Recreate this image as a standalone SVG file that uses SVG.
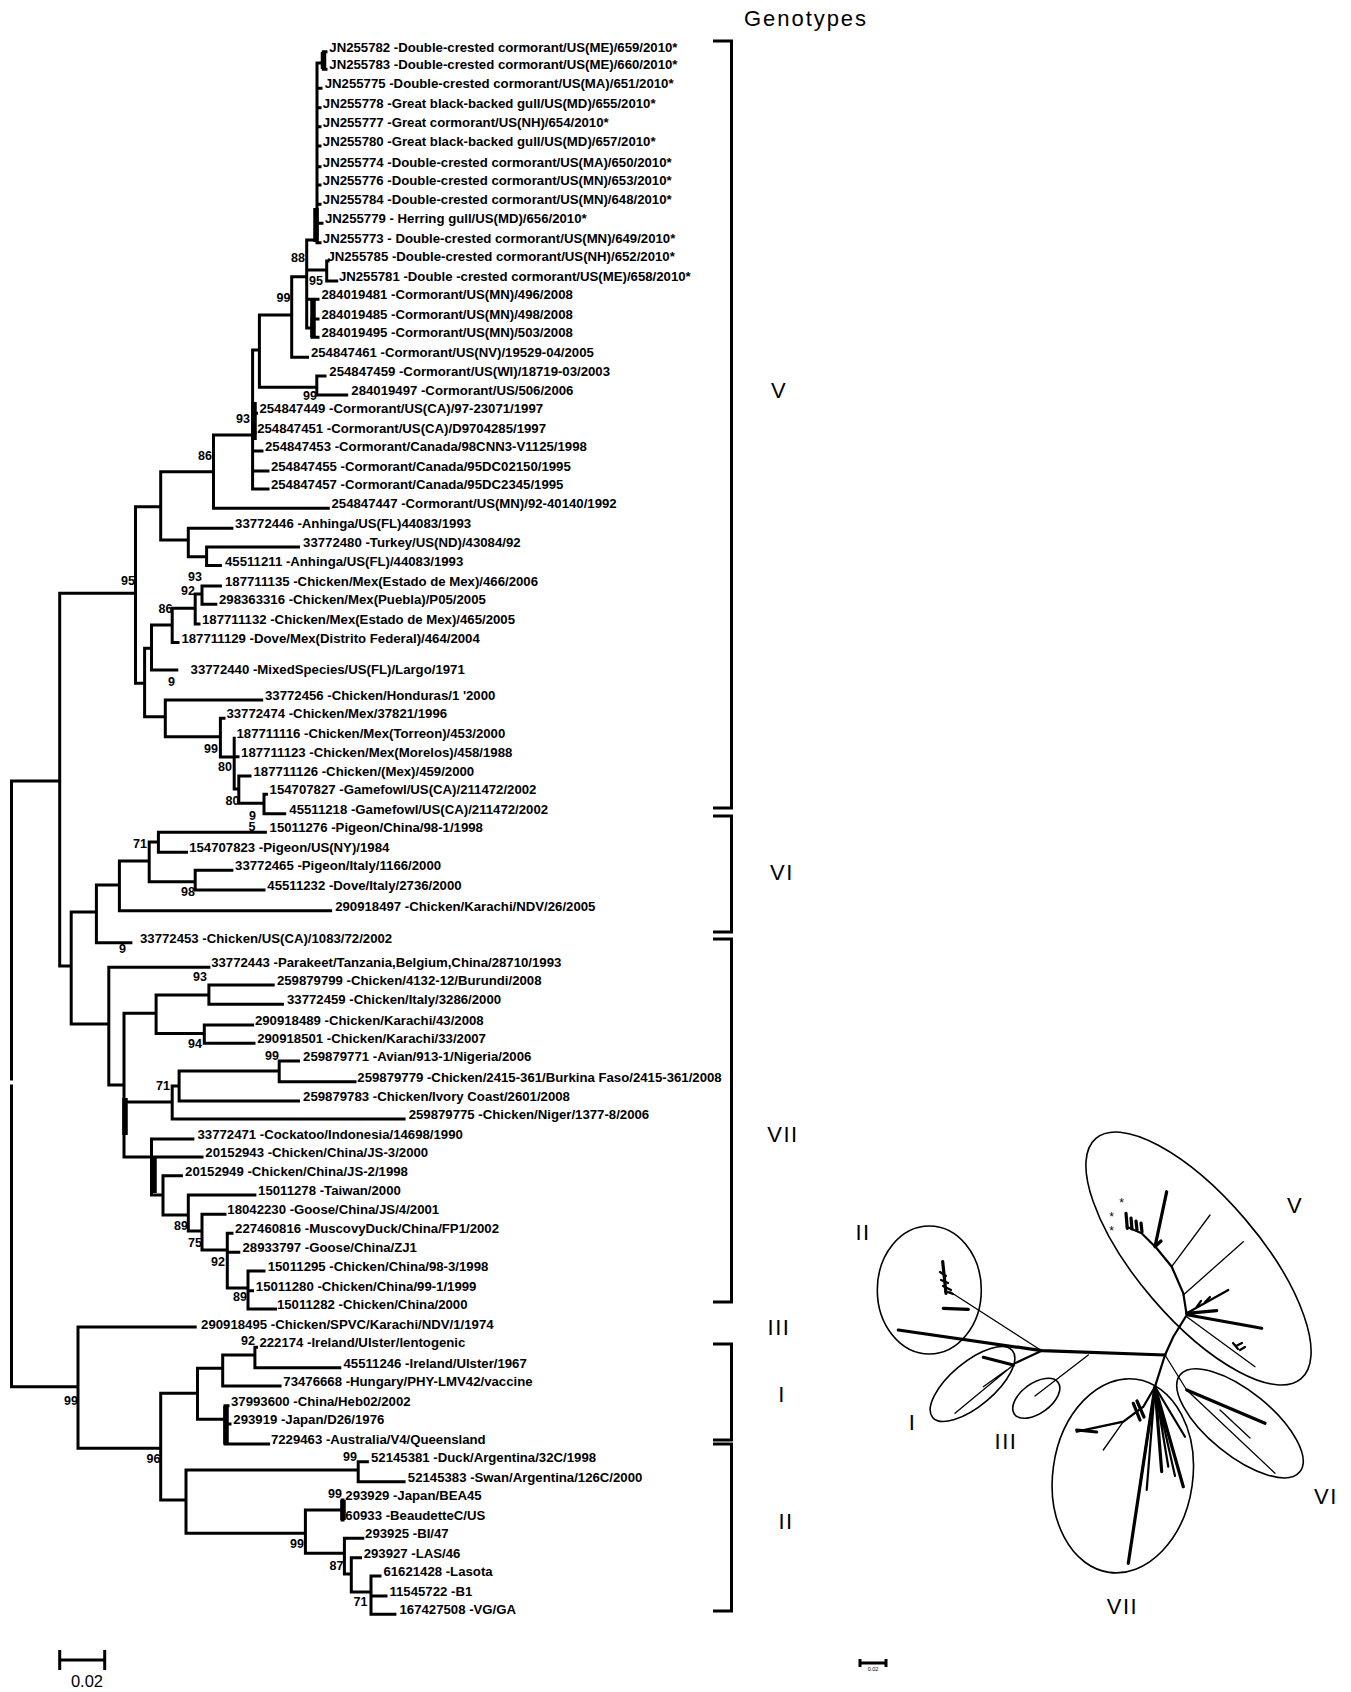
<svg xmlns="http://www.w3.org/2000/svg" width="1351" height="1692" viewBox="0 0 1351 1692">
<style>
.t{font-family:"Liberation Sans",Arial,sans-serif;font-weight:bold;font-size:13.2px;fill:#000}
.b{font-family:"Liberation Sans",Arial,sans-serif;font-weight:bold;font-size:12.5px;fill:#000;text-anchor:end}
.g{font-family:"Liberation Sans",Arial,sans-serif;font-size:22px;fill:#000;text-anchor:middle;letter-spacing:1.5px}
.ast{font-family:"Liberation Sans",Arial,sans-serif;font-size:12px;fill:#000;text-anchor:middle}
.br{fill:none;stroke:#000;stroke-width:3;stroke-linecap:square}
.thick{fill:none;stroke:#000;stroke-width:5.5}
.bk{fill:none;stroke:#000;stroke-width:3}
.u1{fill:none;stroke:#000;stroke-width:1.3;stroke-linecap:round}
.u2{fill:none;stroke:#000;stroke-width:2.2;stroke-linecap:round}
.u3{fill:none;stroke:#000;stroke-width:3.2;stroke-linecap:round}
.el{fill:none;stroke:#000;stroke-width:1.6}
</style>
<rect width="1351" height="1692" fill="#fff"/>

<g id="connectors">
<path class="br" d="
M11.5,781 V1079 M11.5,1086 V1386.7 M11.5,781 H59.7 M11.5,1386.7 H78
M59.7,593.3 V966 M59.7,593.3 H135.5 M59.7,966 H71.2
M135.5,506.7 V683.3 M135.5,506.7 H160.7 M135.5,683.3 H144.6
M160.7,471.7 V540 M160.7,471.7 H213.5 M160.7,540 H188.3
M213.5,435 V508.3 M213.5,435 H252.6 M213.5,508.3 H328.3
M252.6,350 V489 M252.6,413.3 H256.5 M252.6,432.7 H255 M252.6,451 H262 M252.6,471 H268 M252.6,489 H268 M252.6,350 H259.4
M259.4,315 V387.3 M259.4,315 H291.7 M259.4,387.3 H316.8
M291.7,276.7 V357.3 M291.7,276.7 H306.7 M291.7,357.3 H307.5
M306.7,240 V328 M306.7,240 H317 M306.7,270 H326.7 M306.7,299.3 H318 M306.7,328 H312
M312,319 V337.3 M312,319 H318 M312,337.3 H318
M317,63 V242.7 M317,88.3 H321 M317,107.7 H320 M317,126.7 H320 M317,146 H320 M317,166.7 H320 M317,185 H320 M317,204.3 H320 M317,223.3 H322 M317,242.7 H320
M317,63 H323.3 M323.3,51.7 V69.3 M323.3,51.7 H326 M323.3,69.3 H326
M326.7,261 V281 M326.7,261 H328 M326.7,281 H336.7
M316.8,376 V395 M316.8,376 H325 M316.8,395 H346.7
M188.3,528.3 V556.7 M188.3,528.3 H231.9 M188.3,556.7 H206.6
M206.6,547 V565.5 M206.6,547 H298.5 M206.6,565.5 H220.4
M144.6,648.3 V716.7 M144.6,648.3 H151.5 M144.6,716.7 H165.3
M151.5,625 V670 M151.5,625 H172.2 M151.5,670 H176.8
M172.2,608.3 V642.5 M172.2,608.3 H195.2 M172.2,642.5 H178
M195.2,594 V624 M195.2,594 H202 M195.2,624 H199
M202,586 V604.3 M202,586 H220.4 M202,604.3 H215.8
M165.3,700 V736.7 M165.3,700 H261.7 M165.3,736.7 H220.4
M220.4,718.3 V757 M220.4,718.3 H224 M220.4,757 H234.2
M234.2,738.3 V789 M234.2,756.7 H238 M234.2,789 H238.8
M238.8,776 V803.3 M238.8,776 H250 M238.8,803.3 H264
M264,794.3 V813.7 M264,794.3 H266.5 M264,813.7 H284.7
M158.4,832.3 V852.3 M158.4,832.3 H265.4 M158.4,852.3 H186.5
M149.2,842 V881.7 M149.2,842 H158.4 M149.2,881.7 H195.2
M195.2,870.3 V890 M195.2,870.3 H231.9 M195.2,890 H264
M119.4,861 V910.7 M119.4,861 H149.2 M119.4,910.7 H330.6
M96.4,885 V942.7 M96.4,885 H119.4 M96.4,942.7 H130.9
M71.2,912 V1024 M71.2,912 H96.4 M71.2,1024 H108.8
M108.8,967.3 V1085 M108.8,967.3 H208.9 M108.8,1085 H124
M124,1013.3 V1157 M124,1013.3 H156.1 M124,1102 H172.2 M124,1157 H151.5
M156.1,995 V1033.5 M156.1,995 H208.9 M156.1,1033.5 H204.3
M208.9,985 V1004.3 M208.9,985 H273.2 M208.9,1004.3 H282.4
M204.3,1025 V1043.3 M204.3,1025 H252.6 M204.3,1043.3 H254
M172.2,1086 V1119 M172.2,1086 H179.1 M172.2,1119 H404.1
M179.1,1071 V1101 M179.1,1071 H279.2 M179.1,1101 H298.5
M279.2,1061 V1081.7 M279.2,1061 H298.5 M279.2,1081.7 H355
M151.5,1139 V1195 M151.5,1139 H192.9 M151.5,1157 H202 M151.5,1195 H163
M163,1175.7 V1215 M163,1175.7 H181.4 M163,1215 H188.3
M188.3,1195 V1231 M188.3,1195 H254.9 M188.3,1231 H202
M202,1214.3 V1250 M202,1214.3 H225 M202,1250 H227.3
M227.3,1233.3 V1288 M227.3,1233.3 H232 M227.3,1252.3 H238.8 M227.3,1288 H248
M248,1271 V1309 M248,1271 H264 M248,1290.7 H252.5 M248,1309 H275.5
M78,1327 V1448.3 M78,1327 H195.2 M78,1448.3 H160.7
M160.7,1393.3 V1500 M160.7,1393.3 H197.5 M160.7,1500 H186
M197.5,1368.3 V1419.3 M197.5,1368.3 H222.7 M197.5,1419.3 H225
M222.7,1355 V1386 M222.7,1355 H254.9 M222.7,1386 H280.1
M254.9,1347.3 V1367.7 M254.9,1347.3 H256.5 M254.9,1367.7 H339.8
M225,1405.7 V1444 M225,1405.7 H228 M225,1424 H230 M225,1444 H268.6
M186,1470 V1533.3 M186,1470 H358.2 M186,1533.3 H305.4
M358.2,1461.7 V1481.7 M358.2,1461.7 H367.4 M358.2,1481.7 H404.1
M305.4,1510 V1553.3 M305.4,1510 H342.1 M305.4,1553.3 H344.4
M342.1,1500 V1520 M342.1,1500 H343 M342.1,1520 H343
M344.4,1538.3 V1574 M344.4,1538.3 H362.8 M344.4,1574 H351.3
M351.3,1557.7 V1592 M351.3,1557.7 H360.5 M351.3,1592 H371
M371,1576 V1614.3 M371,1576 H380 M371,1596 H386 M371,1614.3 H394.9
"/>
<path class="thick" d="M316,208 V242 M323.5,52 V69 M313,298 V337 M254,402 V440 M125,1098 V1135 M154,1157 V1193 M226,1406 V1444 M343,1500 V1520"/>
</g>

<g id="leaves">
<g id="n1"><text class="t" x="329.3" y="51.7">JN255782 -Double-crested cormorant/US(ME)/659/2010*</text></g>
<g id="n2"><text class="t" x="329.3" y="69.3">JN255783 -Double-crested cormorant/US(ME)/660/2010*</text></g>
<g id="n3"><text class="t" x="324.7" y="88.3">JN255775 -Double-crested cormorant/US(MA)/651/2010*</text></g>
<g id="n4"><text class="t" x="322.8" y="107.7">JN255778 -Great black-backed gull/US(MD)/655/2010*</text></g>
<g id="n5"><text class="t" x="322.8" y="126.7">JN255777 -Great cormorant/US(NH)/654/2010*</text></g>
<g id="n6"><text class="t" x="322.8" y="146">JN255780 -Great black-backed gull/US(MD)/657/2010*</text></g>
<g id="n7"><text class="t" x="322.8" y="166.7">JN255774 -Double-crested cormorant/US(MA)/650/2010*</text></g>
<g id="n8"><text class="t" x="322.8" y="185">JN255776 -Double-crested cormorant/US(MN)/653/2010*</text></g>
<g id="n9"><text class="t" x="322.8" y="204.3">JN255784 -Double-crested cormorant/US(MN)/648/2010*</text></g>
<g id="n10"><text class="t" x="325" y="223.3">JN255779 - Herring gull/US(MD)/656/2010*</text></g>
<g id="n11"><text class="t" x="322.8" y="242.7">JN255773 - Double-crested cormorant/US(MN)/649/2010*</text></g>
<g id="n12"><text class="t" x="327.4" y="261">JN255785 -Double-crested cormorant/US(NH)/652/2010*</text></g>
<g id="n13"><text class="t" x="338.9" y="281">JN255781 -Double -crested cormorant/US(ME)/658/2010*</text></g>
<g id="n14"><text class="t" x="321.4" y="299.3">284019481 -Cormorant/US(MN)/496/2008</text></g>
<g id="n15"><text class="t" x="321.4" y="319">284019485 -Cormorant/US(MN)/498/2008</text></g>
<g id="n16"><text class="t" x="321.4" y="337.3">284019495 -Cormorant/US(MN)/503/2008</text></g>
<g id="n17"><text class="t" x="310.9" y="357.3">254847461 -Cormorant/US(NV)/19529-04/2005</text></g>
<g id="n18"><text class="t" x="329.3" y="376">254847459 -Cormorant/US(WI)/18719-03/2003</text></g>
<g id="n19"><text class="t" x="351.3" y="395">284019497 -Cormorant/US/506/2006</text></g>
<g id="n20"><text class="t" x="259.4" y="413.3">254847449 -Cormorant/US(CA)/97-23071/1997</text></g>
<g id="n21"><text class="t" x="257.2" y="432.7">254847451 -Cormorant/US(CA)/D9704285/1997</text></g>
<g id="n22"><text class="t" x="265" y="451">254847453 -Cormorant/Canada/98CNN3-V1125/1998</text></g>
<g id="n23"><text class="t" x="270.9" y="471">254847455 -Cormorant/Canada/95DC02150/1995</text></g>
<g id="n24"><text class="t" x="270.9" y="489">254847457 -Cormorant/Canada/95DC2345/1995</text></g>
<g id="n25"><text class="t" x="331.5" y="508.3">254847447 -Cormorant/US(MN)/92-40140/1992</text></g>
<g id="n26"><text class="t" x="235.1" y="528.3">33772446 -Anhinga/US(FL)44083/1993</text></g>
<g id="n27"><text class="t" x="303.1" y="547">33772480 -Turkey/US(ND)/43084/92</text></g>
<g id="n28"><text class="t" x="225" y="565.5">45511211 -Anhinga/US(FL)/44083/1993</text></g>
<g id="n29"><text class="t" x="225" y="586">187711135 -Chicken/Mex(Estado de Mex)/466/2006</text></g>
<g id="n30"><text class="t" x="219" y="604.3">298363316 -Chicken/Mex(Puebla)/P05/2005</text></g>
<g id="n31"><text class="t" x="202" y="624">187711132 -Chicken/Mex(Estado de Mex)/465/2005</text></g>
<g id="n32"><text class="t" x="181.4" y="642.5">187711129 -Dove/Mex(Distrito Federal)/464/2004</text></g>
<g id="n33"><text class="t" x="190.6" y="674">33772440 -MixedSpecies/US(FL)/Largo/1971</text></g>
<g id="n34"><text class="t" x="265" y="700">33772456 -Chicken/Honduras/1  '2000</text></g>
<g id="n35"><text class="t" x="226.4" y="718.3">33772474 -Chicken/Mex/37821/1996</text></g>
<g id="n36"><text class="t" x="236.5" y="738.3">187711116 -Chicken/Mex(Torreon)/453/2000</text></g>
<g id="n37"><text class="t" x="241.1" y="756.7">187711123 -Chicken/Mex(Morelos)/458/1988</text></g>
<g id="n38"><text class="t" x="253.5" y="776">187711126 -Chicken/(Mex)/459/2000</text></g>
<g id="n39"><text class="t" x="269.6" y="794.3">154707827 -Gamefowl/US(CA)/211472/2002</text></g>
<g id="n40"><text class="t" x="289.3" y="813.7">45511218 -Gamefowl/US(CA)/211472/2002</text></g>
<g id="n41"><text class="t" x="269.6" y="832.3">15011276 -Pigeon/China/98-1/1998</text></g>
<g id="n42"><text class="t" x="189.2" y="852.3">154707823 -Pigeon/US(NY)/1984</text></g>
<g id="n43"><text class="t" x="235.1" y="870.3">33772465 -Pigeon/Italy/1166/2000</text></g>
<g id="n44"><text class="t" x="267.3" y="890">45511232 -Dove/Italy/2736/2000</text></g>
<g id="n45"><text class="t" x="335.2" y="910.7">290918497 -Chicken/Karachi/NDV/26/2005</text></g>
<g id="n46"><text class="t" x="140" y="942.7">33772453 -Chicken/US(CA)/1083/72/2002</text></g>
<g id="n47"><text class="t" x="211.2" y="967.3">33772443 -Parakeet/Tanzania,Belgium,China/28710/1993</text></g>
<g id="n48"><text class="t" x="276.9" y="985">259879799 -Chicken/4132-12/Burundi/2008</text></g>
<g id="n49"><text class="t" x="287" y="1004.3">33772459 -Chicken/Italy/3286/2000</text></g>
<g id="n50"><text class="t" x="254.9" y="1025">290918489 -Chicken/Karachi/43/2008</text></g>
<g id="n51"><text class="t" x="257.2" y="1043.3">290918501 -Chicken/Karachi/33/2007</text></g>
<g id="n52"><text class="t" x="303.1" y="1061">259879771 -Avian/913-1/Nigeria/2006</text></g>
<g id="n53"><text class="t" x="357.3" y="1081.7">259879779 -Chicken/2415-361/Burkina Faso/2415-361/2008</text></g>
<g id="n54"><text class="t" x="303.1" y="1101">259879783 -Chicken/Ivory Coast/2601/2008</text></g>
<g id="n55"><text class="t" x="408.7" y="1119">259879775 -Chicken/Niger/1377-8/2006</text></g>
<g id="n56"><text class="t" x="197.5" y="1139">33772471 -Cockatoo/Indonesia/14698/1990</text></g>
<g id="n57"><text class="t" x="205.3" y="1157">20152943 -Chicken/China/JS-3/2000</text></g>
<g id="n58"><text class="t" x="185.1" y="1175.7">20152949 -Chicken/China/JS-2/1998</text></g>
<g id="n59"><text class="t" x="258.1" y="1195">15011278 -Taiwan/2000</text></g>
<g id="n60"><text class="t" x="227.3" y="1214.3">18042230 -Goose/China/JS/4/2001</text></g>
<g id="n61"><text class="t" x="235.1" y="1233.3">227460816 -MuscovyDuck/China/FP1/2002</text></g>
<g id="n62"><text class="t" x="242.5" y="1252.3">28933797 -Goose/China/ZJ1</text></g>
<g id="n63"><text class="t" x="267.7" y="1271">15011295 -Chicken/China/98-3/1998</text></g>
<g id="n64"><text class="t" x="255.8" y="1290.7">15011280 -Chicken/China/99-1/1999</text></g>
<g id="n65"><text class="t" x="276.9" y="1309">15011282 -Chicken/China/2000</text></g>
<g id="n66"><text class="t" x="201.1" y="1329.3">290918495 -Chicken/SPVC/Karachi/NDV/1/1974</text></g>
<g id="n67"><text class="t" x="259.4" y="1347.3">222174 -Ireland/Ulster/lentogenic</text></g>
<g id="n68"><text class="t" x="343.5" y="1367.7">45511246 -Ireland/Ulster/1967</text></g>
<g id="n69"><text class="t" x="283.3" y="1386">73476668 -Hungary/PHY-LMV42/vaccine</text></g>
<g id="n70"><text class="t" x="231" y="1405.7">37993600 -China/Heb02/2002</text></g>
<g id="n71"><text class="t" x="233.3" y="1424">293919 -Japan/D26/1976</text></g>
<g id="n72"><text class="t" x="270.9" y="1444">7229463 -Australia/V4/Queensland</text></g>
<g id="n73"><text class="t" x="371" y="1461.7">52145381 -Duck/Argentina/32C/1998</text></g>
<g id="n74"><text class="t" x="407.8" y="1481.7">52145383 -Swan/Argentina/126C/2000</text></g>
<g id="n75"><text class="t" x="345.3" y="1500">293929 -Japan/BEA45</text></g>
<g id="n76"><text class="t" x="345.3" y="1520">60933 -BeaudetteC/US</text></g>
<g id="n77"><text class="t" x="365.1" y="1538.3">293925 -BI/47</text></g>
<g id="n78"><text class="t" x="363.7" y="1557.7">293927 -LAS/46</text></g>
<g id="n79"><text class="t" x="383.4" y="1576">61621428 -Lasota</text></g>
<g id="n80"><text class="t" x="389.4" y="1596">11545722 -B1</text></g>
<g id="n81"><text class="t" x="399.5" y="1614.3">167427508 -VG/GA</text></g>
</g>

<g id="support">
<text class="b" x="305" y="261.5">88</text>
<text class="b" x="323" y="284.5">95</text>
<text class="b" x="290.5" y="301.5">99</text>
<text class="b" x="317" y="399.5">99</text>
<text class="b" x="250" y="422.5">93</text>
<text class="b" x="212" y="459.5">86</text>
<text class="b" x="135" y="584.5">95</text>
<text class="b" x="202" y="581">93</text>
<text class="b" x="195" y="595">92</text>
<text class="b" x="172.5" y="612.8">86</text>
<text class="b" x="175" y="686">9</text>
<text class="b" x="218" y="752.8">99</text>
<text class="b" x="232" y="770.5">80</text>
<text class="b" x="239.5" y="804.5">80</text>
<text class="b" x="256" y="819.5">9</text>
<text class="b" x="255.5" y="831">5</text>
<text class="b" x="147" y="847.8">71</text>
<text class="b" x="195" y="896">98</text>
<text class="b" x="126" y="952.5">9</text>
<text class="b" x="207" y="981">93</text>
<text class="b" x="202" y="1047.8">94</text>
<text class="b" x="279" y="1059.5">99</text>
<text class="b" x="170" y="1089.5">71</text>
<text class="b" x="188" y="1229.5">89</text>
<text class="b" x="202" y="1247">75</text>
<text class="b" x="225" y="1266">92</text>
<text class="b" x="247" y="1301">89</text>
<text class="b" x="255" y="1344.5">92</text>
<text class="b" x="78" y="1404.5">99</text>
<text class="b" x="160.5" y="1462.8">96</text>
<text class="b" x="357" y="1460.5">99</text>
<text class="b" x="342" y="1497.8">99</text>
<text class="b" x="304" y="1547.8">99</text>
<text class="b" x="343.5" y="1569.5">87</text>
<text class="b" x="367.5" y="1606">71</text>
</g>

<g id="scale-left">
<path class="bk" d="M59.7,1660 H104.7 M59.7,1650 V1670 M104.7,1650 V1670"/>
<text x="87" y="1687" font-family="Liberation Sans, Arial, sans-serif" font-size="16.5" text-anchor="middle">0.02</text>
</g>

<g id="genotypes">
<text x="805" y="26" font-family="Liberation Sans, Arial, sans-serif" font-size="22" text-anchor="middle" textLength="122" lengthAdjust="spacing">Genotypes</text>
<path class="bk" d="M713,41 H731.5 V808 H713 M713,816 H731.5 V932 H713 M713,939 H731.5 V1302 H713 M713,1344 H731.5 V1440 H713 M713,1444 H731.5 V1611 H713"/>
<text class="g" x="779" y="398">V</text>
<text class="g" x="782" y="880">VI</text>
<text class="g" x="783" y="1142">VII</text>
<text class="g" x="779" y="1335">III</text>
<text class="g" x="782" y="1402">I</text>
<text class="g" x="786" y="1529">II</text>
</g>

<g id="unrooted-tree">
<ellipse class="el" cx="929.3" cy="1290" rx="52" ry="64"/>
<ellipse class="el" cx="1198.5" cy="1258.5" rx="158" ry="61" transform="rotate(49.5 1198.5 1258.5)"/>
<ellipse class="el" cx="1240" cy="1423.3" rx="77" ry="32" transform="rotate(39 1240 1423.3)"/>
<ellipse class="el" cx="972.5" cy="1384" rx="52" ry="22" transform="rotate(-40 972.5 1384)"/>
<ellipse class="el" cx="1036.3" cy="1398.3" rx="27" ry="15" transform="rotate(-36 1036.3 1398.3)"/>
<ellipse class="el" cx="1122.8" cy="1475.8" rx="70" ry="97.5" transform="rotate(8 1122.8 1475.8)"/>
<path class="u3" d="M898.3,1330 L1041.7,1350.7 M1041.7,1350.7 L1165,1355"/>
<path class="u1" d="M1041.7,1350.7 L950,1291.7"/>
<path class="u3" d="M943.3,1308.3 L968.3,1309.3 M942.7,1261.7 L946,1293.3"/>
<path class="u2" d="M940,1272 L946,1276 M941,1280 L948,1283 M943,1286 L951,1290 M945,1291 L953,1294"/>
<path class="u2" d="M1041.7,1350.7 L1015,1363.3"/>
<path class="u3" d="M983.3,1357.3 L1013.3,1365"/>
<path class="u1" d="M1013.3,1365 L955,1413.3 M1006.7,1370 L983.3,1386.7"/>
<path class="u1" d="M1088.3,1355 L1035,1396"/>
<path class="u2" d="M1165,1355 L1173.3,1336.7 L1186.7,1315 L1183.3,1293.3 L1171.7,1266.7 L1156.7,1248.3 L1141.7,1233.3 L1126.7,1226.7"/>
<path class="u3" d="M1155,1246.7 L1166.7,1191.7 M1155,1246.7 L1161,1241"/>
<path class="u1" d="M1171.7,1266.7 L1210,1215 M1183.3,1295 L1243.3,1241.7 M1186.7,1316.7 L1255,1366.7"/>
<path class="u2" d="M1186.7,1313.3 L1228.3,1290 M1196,1308 L1201,1301 M1205,1302 L1210,1297"/>
<path class="u3" d="M1186.7,1313.3 L1216.7,1310.7 M1188.3,1315 L1261.7,1328.3"/>
<path class="u2" d="M1233,1343 L1238,1349 M1240,1350 L1245,1347 M1236,1346 L1242,1343"/>
<path class="u3" d="M1126,1213.3 L1127.3,1228.3 M1131,1218 L1132,1229 M1136,1221 L1137,1230 M1141,1223 L1142,1232"/>
<path class="u2" d="M1165,1355 L1155,1386.7"/>
<path class="u3" d="M1155,1386.7 L1128.3,1563.3 M1155,1386.7 L1161.7,1471.7 M1155,1386.7 L1183.3,1486.7"/>
<path class="u2" d="M1155,1386.7 L1146.7,1490 M1155,1386.7 L1140,1486 M1155,1386.7 L1168.3,1466.7 M1155,1386.7 L1185,1436.7 M1155,1386.7 L1175,1476"/>
<path class="u2" d="M1155,1386.7 L1143.3,1406.7 L1123.3,1421.7 L1076.7,1431.7"/>
<path class="u3" d="M1076.7,1430 L1096.7,1432 M1133.3,1403.3 L1140,1420 M1137,1401 L1144,1417"/>
<path class="u1" d="M1123.3,1421.7 L1103.3,1450"/>
<path class="u1" d="M1165,1355 L1186.7,1390 M1186.7,1390 L1275,1473.3 M1220,1410 L1250,1438"/>
<path class="u3" d="M1186.7,1390 L1265,1423.3"/>
<text class="ast" x="1121.7" y="1207">*</text>
<text class="ast" x="1111.7" y="1221">*</text>
<text class="ast" x="1111.7" y="1235">*</text>
<text class="g" x="863" y="1240" font-size="23">II</text>
<text class="g" x="1295" y="1213" font-size="23">V</text>
<text class="g" x="912.5" y="1430" font-size="23">I</text>
<text class="g" x="1006" y="1449" font-size="23">III</text>
<text class="g" x="1326" y="1504" font-size="23">VI</text>
<text class="g" x="1122.5" y="1614" font-size="23">VII</text>
<path class="bk" d="M860,1663 H886 M860,1659 V1667 M886,1659 V1667" stroke-width="2.5"/>
<text x="873" y="1671" font-family="Liberation Sans, Arial, sans-serif" font-size="5.5" text-anchor="middle">0.02</text>
</g>
</svg>
